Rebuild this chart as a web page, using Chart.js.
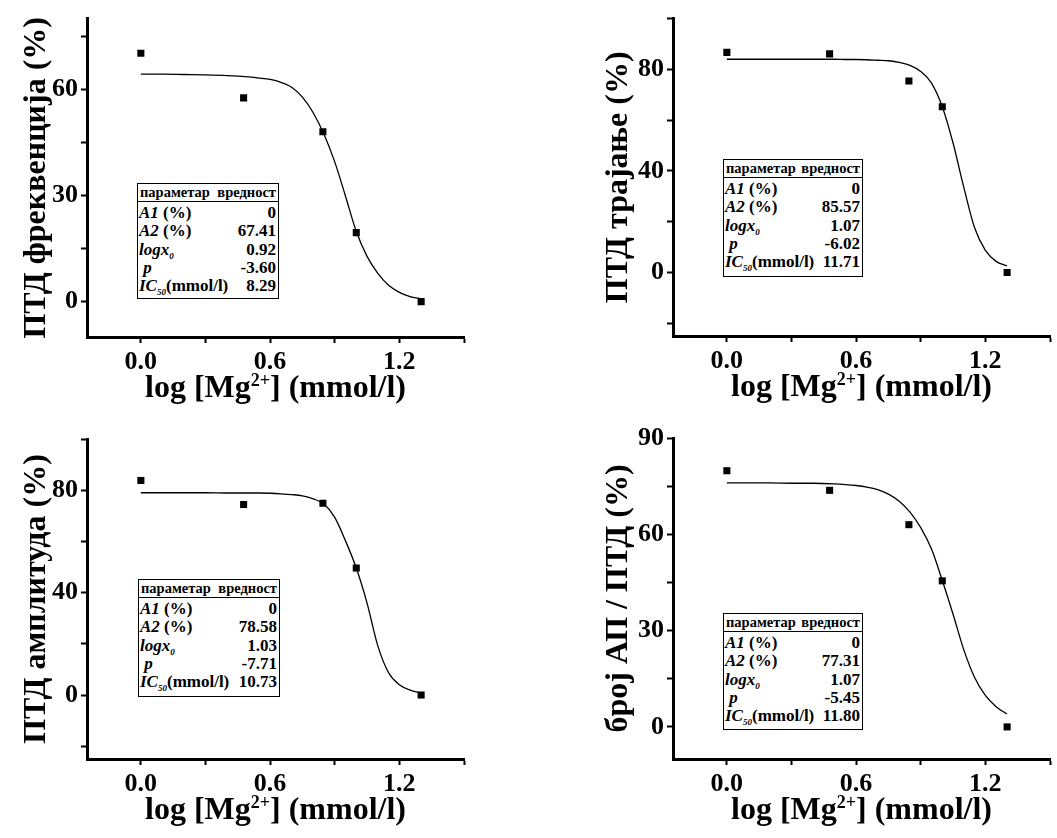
<!DOCTYPE html>
<html>
<head>
<meta charset="utf-8">
<script src="https://cdn.jsdelivr.net/npm/chart.js@4.4.0/dist/chart.umd.min.js"></script>
<style>
  body { margin: 0; background: #fff; width: 1057px; height: 838px; position: relative; overflow: hidden; }
  canvas { position: absolute; }
  .params {
    position: absolute; box-sizing: border-box; background: #fff;
    border: 1.5px solid #000; font-family: 'Liberation Serif', 'Times New Roman', serif;
    font-weight: bold; color: #000;
  }
  .params .head {
    display: flex; justify-content: space-between; font-size: 14.5px;
    height: 17px; line-height: 16px; padding: 0 2px; border-bottom: 1.5px solid #000;
  }
  .params .rows { padding-top: 2px; }
  .params .row {
    display: flex; justify-content: space-between; font-size: 17px;
    line-height: 18.3px; padding: 0 2px 0 1px;
  }
  .params sub { font-size: 9px; line-height: 0; vertical-align: -4px; font-style: italic; }
</style>
</head>
<body>
<canvas id="freq" width="528" height="419" style="left:0;top:0"></canvas>
<canvas id="dur" width="529" height="419" style="left:528px;top:0"></canvas>
<canvas id="amp" width="528" height="419" style="left:0;top:419px"></canvas>
<canvas id="apr" width="529" height="419" style="left:528px;top:419px"></canvas>

<script>
// log [Mg2+] за 1, 3, 7, 10 и 20 mmol/l
const logMg = [0, 0.477, 0.845, 1.0, 1.301];

// тачке на којима је очитана фитована крива
const fitX = [0, 0.1, 0.2, 0.3, 0.4, 0.5, 0.55, 0.6, 0.65, 0.7, 0.75, 0.8,
              0.85, 0.9, 0.95, 1.0, 1.05, 1.1, 1.15, 1.2, 1.25, 1.3];

// ПТД фреквенција
const freqPts = [70.2, 57.6, 48.0, 19.5, 0];
const freqFit = [64.3, 64.3, 64.2, 64.1, 63.9, 63.5, 63.2, 62.8, 62.0, 60.6, 57.8, 53.4,
                 47.3, 39.5, 29.8, 19.8, 12.8, 8.0, 4.6, 2.6, 1.4, 0.8];
const freqParams = ['0', '67.41', '0.92', '-3.60', '8.29'];

// ПТД трајање
const durPts = [86.7, 86.1, 75.4, 65.3, 0];
const durFit = [84.0, 84.0, 84.0, 84.0, 84.0, 84.0, 83.9, 83.9, 83.8, 83.6, 83.4, 82.8,
                81.6, 79.2, 74.6, 65.3, 51.0, 33.5, 17.6, 8.7, 4.4, 2.6];
const durParams = ['0', '85.57', '1.07', '-6.02', '11.71'];

// ПТД амплитуда
const ampPts = [83.8, 74.4, 74.9, 49.6, 0];
const ampFit = [79.0, 79.0, 79.0, 79.0, 78.9, 78.9, 78.9, 78.8, 78.6, 78.3, 77.8, 76.6,
                74.6, 69.4, 60.2, 49.6, 35.9, 19.2, 8.7, 4.0, 1.9, 0.8];
const ampParams = ['0', '78.58', '1.03', '-7.71', '10.73'];

// број АП / ПТД
const aprPts = [79.8, 73.7, 63.0, 45.5, 0];
const aprFit = [76.0, 76.0, 76.0, 75.9, 75.9, 75.7, 75.5, 75.2, 74.7, 73.9, 72.5, 70.3,
                66.9, 62.1, 55.4, 45.6, 35.1, 24.0, 15.4, 9.8, 6.3, 4.0];
const aprParams = ['0', '77.31', '1.07', '-5.45', '11.80'];

// подеоци
const xTicks = [0, 0.3, 0.6, 0.9, 1.2, 1.5];
const xLabels = [0, 0.6, 1.2];
const freqTicks = [0, 15, 30, 45, 60, 75];
const freqLabels = [0, 30, 60];
const pctTicks = [-20, 0, 20, 40, 60, 80, 100];
const pctLabels = [0, 40, 80];
const aprTicks = [0, 15, 30, 45, 60, 75, 90];
const aprLabels = [0, 30, 60, 90];

const paramNames = [
  '<i>A1</i> (%)',
  '<i>A2</i> (%)',
  '<i>logx</i><sub>0</sub>',
  '&nbsp;<i>p</i>',
  '<i>IC</i><sub>50</sub>(mmol/l)',
];

const FONT = "'Liberation Serif', 'Times New Roman', serif";

// наслови оса: усправни ротиран, водоравни са експонентом
const axisTitles = {
  id: 'axisTitles',
  afterDraw(chart, args, o) {
    const { ctx, chartArea: a } = chart;
    ctx.save();
    ctx.fillStyle = '#000';
    ctx.textBaseline = 'alphabetic';

    ctx.font = `bold ${o.size}px ${FONT}`;
    ctx.save();
    ctx.translate(a.left - o.yGap, (a.top + a.bottom) / 2);
    ctx.rotate(-Math.PI / 2);
    ctx.textAlign = 'center';
    ctx.fillText(o.y, 0, 0);
    ctx.restore();

    ctx.textAlign = 'left';
    const supSize = Math.round(o.size * 0.56);
    ctx.font = `bold ${o.size}px ${FONT}`;
    const w1 = ctx.measureText(o.x[0]).width;
    const w3 = ctx.measureText(o.x[2]).width;
    ctx.font = `bold ${supSize}px ${FONT}`;
    const w2 = ctx.measureText(o.x[1]).width;
    let x = (a.left + a.right) / 2 - (w1 + w2 + w3) / 2;
    const y = a.bottom + o.xGap;
    ctx.font = `bold ${o.size}px ${FONT}`;
    ctx.fillText(o.x[0], x, y);
    x += w1;
    ctx.font = `bold ${supSize}px ${FONT}`;
    ctx.fillText(o.x[1], x, y - o.size * 0.34);
    x += w2;
    ctx.font = `bold ${o.size}px ${FONT}`;
    ctx.fillText(o.x[2], x, y);
    ctx.restore();
  }
};

function axisStyle(ticks, labels, digits, pad) {
  return {
    type: 'linear',
    afterBuildTicks: axis => { axis.ticks = ticks.map(v => ({ value: v })); },
    border: { display: true, color: '#000', width: 3 },
    grid: { drawOnChartArea: false, drawTicks: true, tickLength: 6, tickWidth: 2, color: '#000' },
    ticks: {
      color: '#000', padding: pad, autoSkip: false, maxRotation: 0,
      font: { family: FONT, size: 26, weight: 'bold' },
      callback: v => labels.includes(v) ? v.toFixed(digits) : '',
    },
  };
}

function makePanel(p) {
  const x = axisStyle(xTicks, xLabels, 1, 4);
  x.min = -0.25; x.max = 1.5;
  x.afterFit = s => { s.height = p.xAxisH; };
  const y = axisStyle(p.yTicks, p.yLabels, 0, 3);
  y.min = p.yMin; y.max = p.yMax;
  y.afterFit = s => { s.width = p.yAxisW; };

  new Chart(document.getElementById(p.id), {
    type: 'scatter',
    data: {
      datasets: [
        {
          data: logMg.map((v, i) => ({ x: v, y: p.pts[i] })),
          pointStyle: 'rect', pointRadius: 5, backgroundColor: '#000', borderWidth: 0,
        },
        {
          data: fitX.map((v, i) => ({ x: v, y: p.fit[i] })),
          showLine: true, pointRadius: 0, borderColor: '#000', borderWidth: 1.3,
          cubicInterpolationMode: 'monotone',
        },
      ],
    },
    options: {
      responsive: false,
      animation: false,
      events: [],
      layout: { padding: { top: p.padTop, right: p.padRight, left: 0, bottom: 0 } },
      plugins: {
        legend: { display: false },
        tooltip: { enabled: false },
        axisTitles: { y: p.title, x: ['log [Mg', '2+', '] (mmol/l)'], size: 32, yGap: p.yGap, xGap: 60 },
      },
      scales: { x, y },
    },
    plugins: [axisTitles],
  });

  // табела параметара фита
  const box = document.createElement('div');
  box.className = 'params';
  Object.assign(box.style, {
    left: p.box[0] + 'px', top: p.box[1] + 'px', width: p.box[2] + 'px', height: p.box[3] + 'px',
  });
  box.innerHTML = '<div class="head"><span>параметар</span><span>вредност</span></div>' +
    '<div class="rows">' +
    paramNames.map((n, i) => `<div class="row"><span>${n}</span><span>${p.params[i]}</span></div>`).join('') +
    '</div>';
  document.body.appendChild(box);
}

makePanel({
  id: 'freq', title: 'ПТД фреквенција (%)', pts: freqPts, fit: freqFit, params: freqParams,
  yMin: -10, yMax: 80, yTicks: freqTicks, yLabels: freqLabels,
  yAxisW: 87, xAxisH: 82, padTop: 14, padRight: 64, yGap: 42, box: [137, 183, 142, 116],
});
makePanel({
  id: 'dur', title: 'ПТД трајање (%)', pts: durPts, fit: durFit, params: durParams,
  yMin: -25, yMax: 100, yTicks: pctTicks, yLabels: pctLabels,
  yAxisW: 145, xAxisH: 83, padTop: 15, padRight: 7, yGap: 46, box: [723, 159, 140, 118],
});
makePanel({
  id: 'amp', title: 'ПТД амплитуда (%)', pts: ampPts, fit: ampFit, params: ampParams,
  yMin: -25, yMax: 100, yTicks: pctTicks, yLabels: pctLabels,
  yAxisW: 87, xAxisH: 79, padTop: 20, padRight: 64, yGap: 42, box: [138, 579, 142, 118],
});
makePanel({
  id: 'apr', title: 'број АП / ПТД (%)', pts: aprPts, fit: aprFit, params: aprParams,
  yMin: -10, yMax: 90, yTicks: aprTicks, yLabels: aprLabels,
  yAxisW: 145, xAxisH: 79, padTop: 19, padRight: 7, yGap: 46, box: [723, 613, 140, 117],
});
</script>
</body>
</html>
